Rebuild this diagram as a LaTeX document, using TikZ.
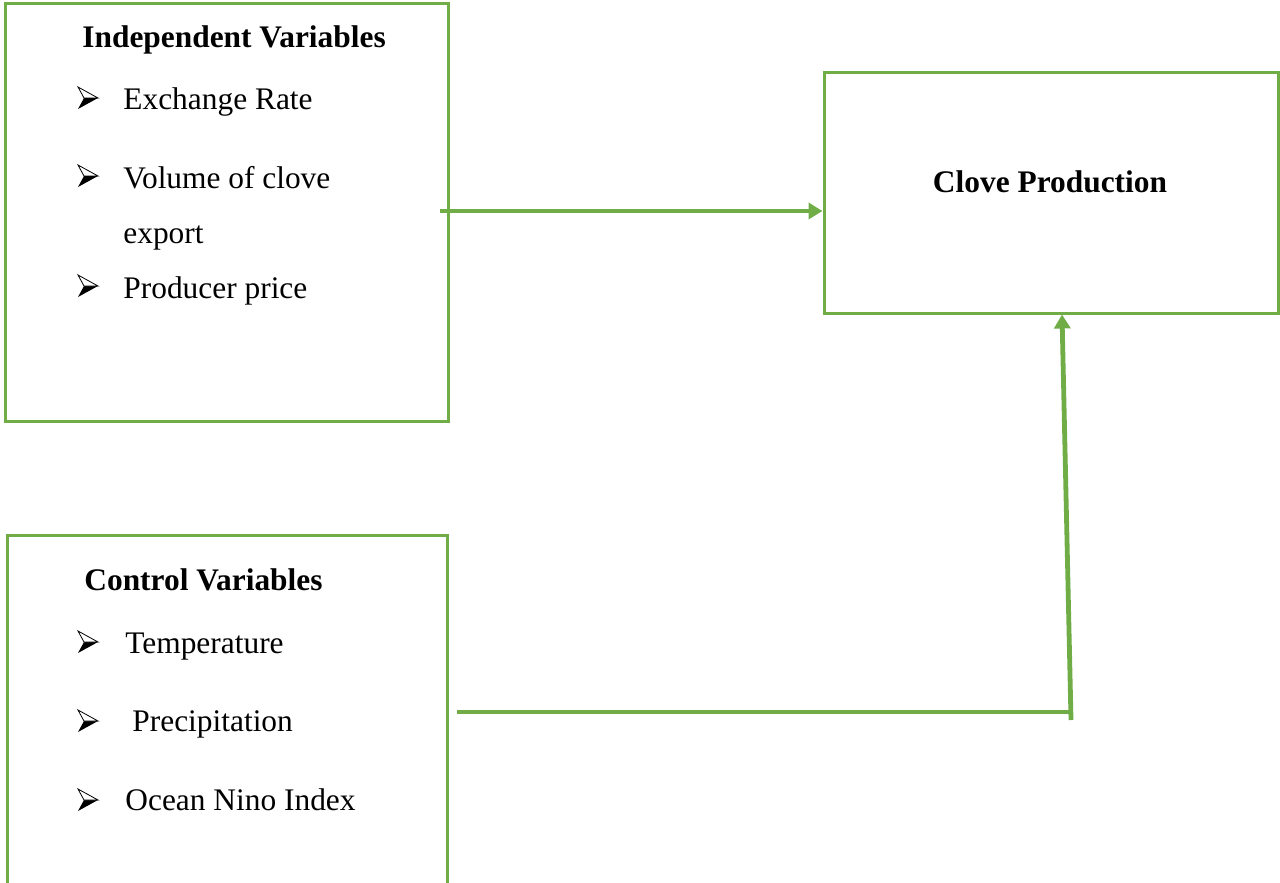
\documentclass[tikz,border=0pt]{standalone}
\usepackage{fontspec}
\setmainfont{Liberation Serif}
\usepackage{xcolor}
\usetikzlibrary{arrows.meta}
\definecolor{leafgreen}{HTML}{70AD47}
\newcommand{\boxfont}{\fontsize{15.7}{19}\selectfont}
\tikzset{
  framebox/.style={draw=leafgreen,line width=1.5pt,inner sep=0pt},
  linkline/.style={draw=leafgreen,line width=2.4pt},
  linkarrow/.style={linkline,-{Triangle[length=7pt,width=8pt]}},
  headtext/.style={anchor=base west,inner sep=0pt,font=\boxfont\bfseries},
  itemtext/.style={anchor=base west,inner sep=0pt,font=\boxfont},
  listmark/.pic={
    \fill[black] (-4,0) -- (10,0) -- (-10,11) -- cycle;
    \draw[black,line width=0.4pt,fill=white,line join=miter]
      (-10,-11) -- (10,0) -- (-4,0) -- cycle;
  },
}

\begin{document}
\begin{tikzpicture}[x=0.5pt,y=-0.5pt]
  \useasboundingbox (0,0) rectangle (1280,883);
  \clip (0,0) rectangle (1280,883);

  % boxes
  \node[framebox,minimum width=221.5pt,minimum height=208.5pt] (iv) at (226.5,212.5) {};
  \node[framebox,minimum width=227pt,minimum height=120pt] (cp) at (1051,193) {};
  \node[framebox,minimum width=220pt,minimum height=185pt] (cv) at (227,720) {};

  % independent variables
  \node[headtext] (iv-head) at (82,48) {Independent Variables};
  \node[itemtext] (iv-rate) at (123,110) {Exchange Rate};
  \node[itemtext] (iv-vol) at (123,188) {Volume of clove};
  \node[itemtext] (iv-vol2) at (123,243) {export};
  \node[itemtext] (iv-price) at (123,298) {Producer price};
  \foreach \y in {98,176,286}
    \pic at (88,\y) {listmark};

  % dependent variable
  \node[headtext,anchor=base] (cp-head) at (1050,192) {Clove Production};

  % control variables
  \node[headtext] (cv-head) at (84,590) {Control Variables};
  \node[itemtext] (cv-temp) at (125,653) {Temperature};
  \node[itemtext] (cv-rain) at (132,731) {Precipitation};
  \node[itemtext] (cv-oni) at (125,810) {Ocean Nino Index};
  \foreach \y in {642,721,800}
    \pic at (88,\y) {listmark};

  % links
  \coordinate (iv-out) at (440,211);
  \draw[linkarrow] (iv-out) -- (iv-out -| cp.west);
  \coordinate (cv-out) at (457,712);
  \coordinate (cv-turn) at (1071,720);
  \draw[linkline] (cv-out) -- (cv-out -| cv-turn);
  \draw[linkarrow] (cv-turn) -- ([xshift=5.5pt]cp.south);
\end{tikzpicture}
\end{document}
